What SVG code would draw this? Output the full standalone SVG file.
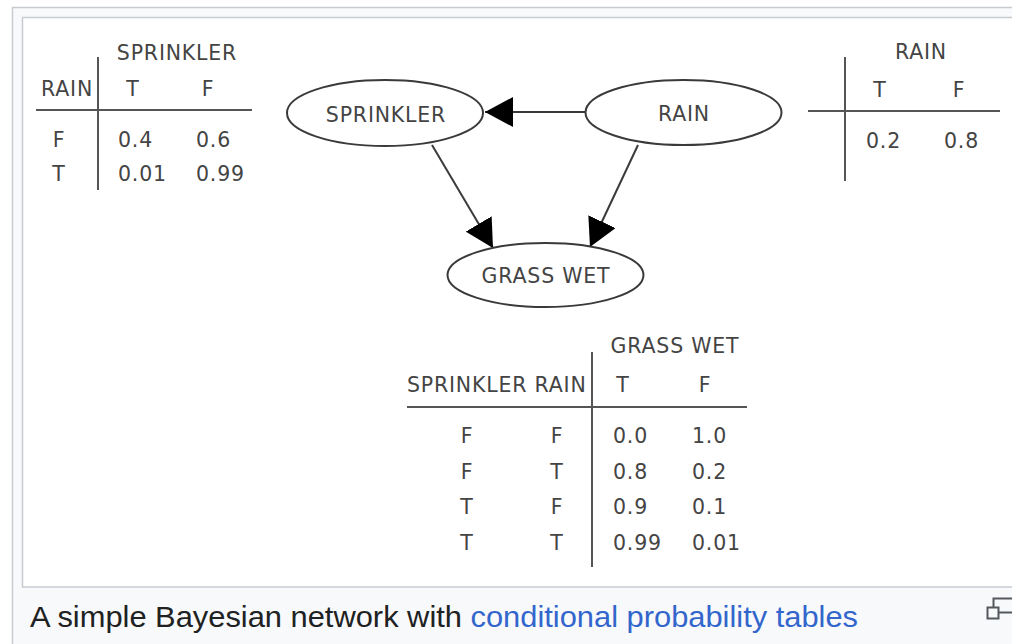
<svg xmlns="http://www.w3.org/2000/svg" width="1012" height="644" viewBox="0 0 1012 644">
  <style>
    .lbl { font-family: "DejaVu Sans", sans-serif; font-size: 20.5px; letter-spacing: 0.8px; fill: #444444; }
    .mid { text-anchor: middle; }
    .node { fill: #ffffff; stroke: #3a3a3a; stroke-width: 2; }
    .edge { stroke: #3a3a3a; stroke-width: 2; fill: none; }
    .rule { stroke: #555555; stroke-width: 2; fill: none; }
    .cap { font-family: "Liberation Sans", Arial, sans-serif; font-size: 30px; fill: #202122; }
  </style>
  <defs>
    <marker id="head" viewBox="0 0 28 30" refX="28" refY="15" markerWidth="28" markerHeight="30" markerUnits="userSpaceOnUse" orient="auto">
      <path d="M0,0 L28,15 L0,30 Z" fill="#000000"/>
    </marker>
  </defs>

  <!-- thumbnail frame -->
  <rect x="12.5" y="7.5" width="1010" height="650" fill="#f8f9fa" stroke="#c8ccd1" stroke-width="1.5"/>
  <rect x="22.5" y="17.5" width="1000" height="569.5" fill="#ffffff" stroke="#c8ccd1" stroke-width="1.5"/>

  <!-- connectors -->
  <g id="edges">
    <line class="edge" x1="585" y1="112" x2="485" y2="112" marker-end="url(#head)"/>
    <line class="edge" x1="432" y1="145" x2="493" y2="248" marker-end="url(#head)"/>
    <line class="edge" x1="638" y1="145" x2="590" y2="247" marker-end="url(#head)"/>
  </g>

  <g id="sprinkler">
    <ellipse class="node" cx="385" cy="113" rx="98" ry="33"/>
    <text class="lbl mid" x="386" y="122">SPRINKLER</text>
  </g>
  <g id="rain">
    <ellipse class="node" cx="683.5" cy="112.5" rx="98" ry="32.5"/>
    <text class="lbl mid" x="684" y="121">RAIN</text>
  </g>
  <g id="grass-wet">
    <ellipse class="node" cx="545.5" cy="275" rx="98" ry="32"/>
    <text class="lbl mid" x="546" y="283">GRASS WET</text>
  </g>

  <!-- P(SPRINKLER | RAIN) -->
  <g id="table-sprinkler">
    <line class="rule" x1="98" y1="57" x2="98" y2="190"/>
    <line class="rule" x1="36" y1="110" x2="252" y2="110"/>
    <text class="lbl mid" x="177" y="60">SPRINKLER</text>
    <text class="lbl" x="41" y="96">RAIN</text>
    <text class="lbl mid" x="133" y="96">T</text>
    <text class="lbl mid" x="208" y="96">F</text>
    <text class="lbl mid" x="59" y="147">F</text>
    <text class="lbl" x="118" y="147">0.4</text>
    <text class="lbl" x="196" y="147">0.6</text>
    <text class="lbl mid" x="59" y="181">T</text>
    <text class="lbl" x="118" y="181">0.01</text>
    <text class="lbl" x="196" y="181">0.99</text>
  </g>

  <!-- P(RAIN) -->
  <g id="table-rain">
    <line class="rule" x1="845" y1="57" x2="845" y2="181"/>
    <line class="rule" x1="808" y1="111" x2="1000" y2="111"/>
    <text class="lbl mid" x="921" y="59">RAIN</text>
    <text class="lbl mid" x="880" y="97">T</text>
    <text class="lbl mid" x="959" y="97">F</text>
    <text class="lbl" x="866" y="148">0.2</text>
    <text class="lbl" x="944" y="148">0.8</text>
  </g>

  <!-- P(GRASS WET | SPRINKLER, RAIN) -->
  <g id="table-grass-wet">
    <line class="rule" x1="592" y1="352" x2="592" y2="567"/>
    <line class="rule" x1="407" y1="407" x2="747" y2="407"/>
    <text class="lbl mid" x="675" y="353">GRASS WET</text>
    <text class="lbl" x="407" y="392">SPRINKLER RAIN</text>
    <text class="lbl mid" x="623" y="392">T</text>
    <text class="lbl mid" x="705" y="392">F</text>
    <text class="lbl mid" x="467" y="443">F</text>
    <text class="lbl mid" x="557" y="443">F</text>
    <text class="lbl" x="613" y="443">0.0</text>
    <text class="lbl" x="692" y="443">1.0</text>
    <text class="lbl mid" x="467" y="479">F</text>
    <text class="lbl mid" x="557" y="479">T</text>
    <text class="lbl" x="613" y="479">0.8</text>
    <text class="lbl" x="692" y="479">0.2</text>
    <text class="lbl mid" x="467" y="514">T</text>
    <text class="lbl mid" x="557" y="514">F</text>
    <text class="lbl" x="613" y="514">0.9</text>
    <text class="lbl" x="692" y="514">0.1</text>
    <text class="lbl mid" x="467" y="550">T</text>
    <text class="lbl mid" x="557" y="550">T</text>
    <text class="lbl" x="613" y="550">0.99</text>
    <text class="lbl" x="692" y="550">0.01</text>
  </g>

  <!-- caption -->
  <text class="cap" x="30" y="627" textLength="828" lengthAdjust="spacingAndGlyphs">A simple Bayesian network with <tspan fill="#3366cc">conditional probability tables</tspan></text>

  <!-- enlarge icon -->
  <g id="enlarge" fill="none" stroke="#54595d" stroke-width="2">
    <rect x="993.5" y="598.5" width="22" height="14"/>
    <rect x="987.5" y="607.5" width="11" height="11" fill="#f8f9fa"/>
  </g>
</svg>
